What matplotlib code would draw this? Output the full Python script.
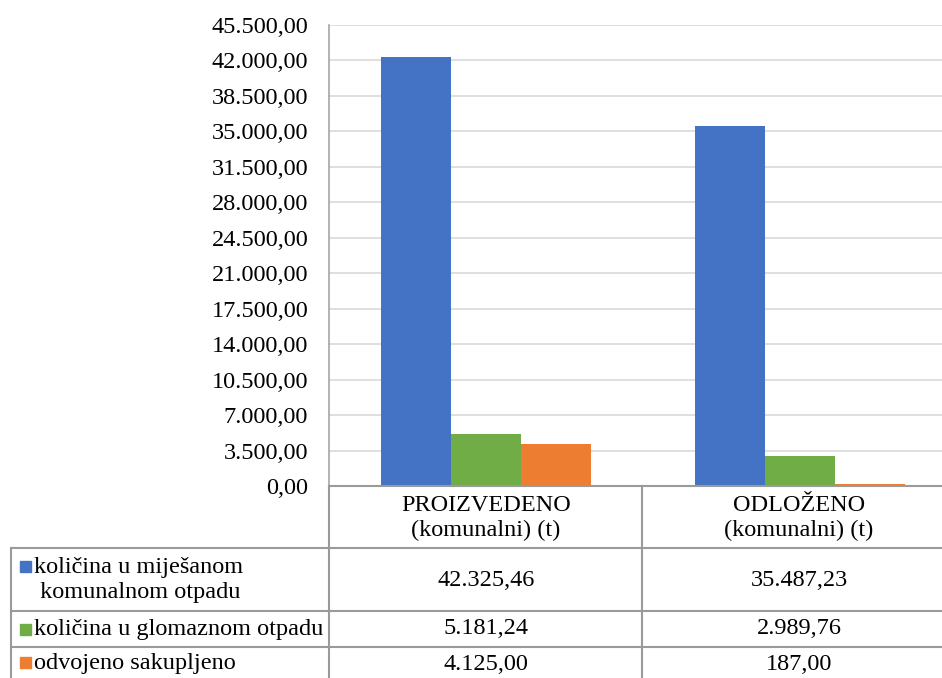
import matplotlib
matplotlib.use("Agg")
import matplotlib.pyplot as plt
from matplotlib.lines import Line2D
from matplotlib.patches import Rectangle

plt.rcParams['font.family'] = ['Liberation Serif', 'DejaVu Serif']

categories = ["PROIZVEDENO\n(komunalni) (t)", "ODLOŽENO\n(komunalni) (t)"]
series_names = ["količina u miješanom\n komunalnom otpadu",
                "količina u glomaznom otpadu",
                "odvojeno sakupljeno"]
mixed = [42325.46, 35487.23]
bulky = [5181.24, 2989.76]
separate = [4125.00, 187.00]
colors = ["#4472C4", "#70AD47", "#ED7D31"]
yticks = [i * 3500 for i in range(14)]


def fmt(v):
    s = f"{v:,.2f}"
    return s.replace(",", "X").replace(".", ",").replace("X", ".")


W, H = 942, 678
fs = 17.5
fig = plt.figure(figsize=(W / 100, H / 100), dpi=100)

# plot area in pixels (right edge runs past the image, like the source crop)
left, right, top, bottom = 329, 957, 25, 486
ax = fig.add_axes([left / W, 1 - bottom / H, (right - left) / W, (bottom - top) / H])

series = [mixed, bulky, separate]
bw = 70 / 314
x = list(range(len(categories)))
for i, vals in enumerate(series):
    ax.bar([xi + (i - 1) * bw for xi in x], vals, width=bw, color=colors[i], zorder=3)

ax.set_xlim(-0.5, 1.5)
ax.set_ylim(0, 45500)
ax.set_yticks(yticks)
ax.set_yticklabels([fmt(t) for t in yticks], fontsize=fs)
ax.tick_params(axis='y', length=0, pad=15)
ax.set_xticks([])
ax.grid(axis='y', color='#d9d9d9', linewidth=1.2, zorder=0)
for s in ['top', 'right', 'bottom']:
    ax.spines[s].set_visible(False)
ax.spines['left'].set_color('#a6a6a6')
ax.spines['left'].set_linewidth(1.2)

# data table drawn in pixel coordinates
ov = fig.add_axes([0, 0, 1, 1])
ov.set_xlim(0, W)
ov.set_ylim(H, 0)
ov.axis('off')
ov.patch.set_alpha(0)

lc = '#9a9a9a'
lw = 1.5
ov.add_line(Line2D([left, W], [bottom, bottom], color=lc, lw=lw))
for yy in [548, 611, 647]:
    ov.add_line(Line2D([11, W], [yy, yy], color=lc, lw=lw))
ov.add_line(Line2D([11, 11], [548, H], color=lc, lw=lw))
ov.add_line(Line2D([left, left], [bottom, H], color=lc, lw=lw))
ov.add_line(Line2D([642, 642], [bottom, H], color=lc, lw=lw))

col_x = [486, 799]
for cx, cat in zip(col_x, categories):
    ov.text(cx, 518, cat, ha='center', va='center', fontsize=fs, linespacing=1.25)

row_y = [580, 629, 664]
marker_y = [566, 629, 662]
for r, (name, vals) in enumerate(zip(series_names, series)):
    ov.add_patch(Rectangle((20, marker_y[r] - 5.5), 11, 11, color=colors[r]))
    ov.text(34, row_y[r], name, ha='left', va='center', fontsize=fs, linespacing=1.2)
    for cx, v in zip(col_x, vals):
        ov.text(cx, row_y[r], fmt(v), ha='center', va='center', fontsize=fs)

fig.savefig("out.png", dpi=100)
